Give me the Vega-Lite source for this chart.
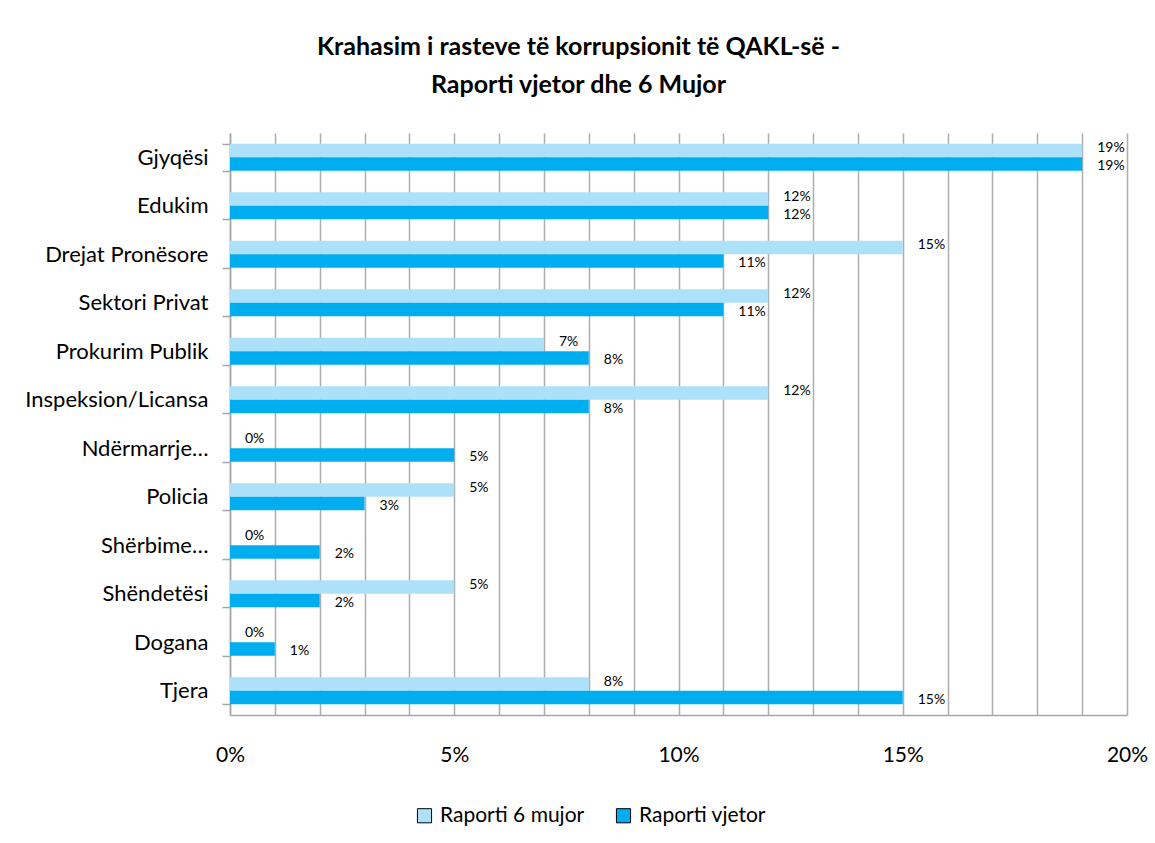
{
  "$schema": "https://vega.github.io/schema/vega-lite/v6.json",
  "autosize": "none",
  "width": 897,
  "height": 582,
  "padding": {"left": 230, "top": 133, "right": 28, "bottom": 128},
  "background": "white",
  "title": {
    "text": ["Krahasim i rasteve të korrupsionit të QAKL-së -", "Raporti vjetor dhe 6 Mujor"],
    "font": "Lato",
    "fontSize": 25,
    "fontWeight": "bold",
    "color": "#000000",
    "anchor": "middle",
    "dx": -100,
    "offset": 24,
    "lineHeight": 38
  },
  "data": {
    "values": [
      {"kategoria": "Gjyqësi", "raporti": "Raporti 6 mujor", "vlera": 0.19},
      {"kategoria": "Gjyqësi", "raporti": "Raporti vjetor", "vlera": 0.19},
      {"kategoria": "Edukim", "raporti": "Raporti 6 mujor", "vlera": 0.12},
      {"kategoria": "Edukim", "raporti": "Raporti vjetor", "vlera": 0.12},
      {"kategoria": "Drejat Pronësore", "raporti": "Raporti 6 mujor", "vlera": 0.15},
      {"kategoria": "Drejat Pronësore", "raporti": "Raporti vjetor", "vlera": 0.11},
      {"kategoria": "Sektori Privat", "raporti": "Raporti 6 mujor", "vlera": 0.12},
      {"kategoria": "Sektori Privat", "raporti": "Raporti vjetor", "vlera": 0.11},
      {"kategoria": "Prokurim Publik", "raporti": "Raporti 6 mujor", "vlera": 0.07},
      {"kategoria": "Prokurim Publik", "raporti": "Raporti vjetor", "vlera": 0.08},
      {"kategoria": "Inspeksion/Licansa", "raporti": "Raporti 6 mujor", "vlera": 0.12},
      {"kategoria": "Inspeksion/Licansa", "raporti": "Raporti vjetor", "vlera": 0.08},
      {"kategoria": "Ndërmarrje…", "raporti": "Raporti 6 mujor", "vlera": 0.0},
      {"kategoria": "Ndërmarrje…", "raporti": "Raporti vjetor", "vlera": 0.05},
      {"kategoria": "Policia", "raporti": "Raporti 6 mujor", "vlera": 0.05},
      {"kategoria": "Policia", "raporti": "Raporti vjetor", "vlera": 0.03},
      {"kategoria": "Shërbime…", "raporti": "Raporti 6 mujor", "vlera": 0.0},
      {"kategoria": "Shërbime…", "raporti": "Raporti vjetor", "vlera": 0.02},
      {"kategoria": "Shëndetësi", "raporti": "Raporti 6 mujor", "vlera": 0.05},
      {"kategoria": "Shëndetësi", "raporti": "Raporti vjetor", "vlera": 0.02},
      {"kategoria": "Dogana", "raporti": "Raporti 6 mujor", "vlera": 0.0},
      {"kategoria": "Dogana", "raporti": "Raporti vjetor", "vlera": 0.01},
      {"kategoria": "Tjera", "raporti": "Raporti 6 mujor", "vlera": 0.08},
      {"kategoria": "Tjera", "raporti": "Raporti vjetor", "vlera": 0.15}
    ]
  },
  "encoding": {
    "y": {
      "field": "kategoria",
      "type": "nominal",
      "sort": ["Gjyqësi", "Edukim", "Drejat Pronësore", "Sektori Privat", "Prokurim Publik", "Inspeksion/Licansa", "Ndërmarrje…", "Policia", "Shërbime…", "Shëndetësi", "Dogana", "Tjera"],
      "scale": {"paddingInner": 0.44, "paddingOuter": 0.22},
      "axis": {
        "title": null,
        "labelFont": "Lato",
        "labelFontSize": 22,
        "labelColor": "#000000",
        "labelPadding": 14,
        "labelLimit": 400,
        "tickBand": "extent",
        "tickSize": 8,
        "tickColor": "#A6A6A6",
        "tickWidth": 1.5,
        "domainColor": "#A6A6A6",
        "domainWidth": 1.5,
        "grid": false
      }
    },
    "yOffset": {
      "field": "raporti",
      "type": "nominal",
      "sort": ["Raporti 6 mujor", "Raporti vjetor"]
    },
    "x": {
      "field": "vlera",
      "type": "quantitative",
      "scale": {"domain": [0, 0.2], "nice": false},
      "axis": {
        "title": null,
        "values": [0, 0.01, 0.02, 0.03, 0.04, 0.05, 0.06, 0.07, 0.08, 0.09, 0.1, 0.11, 0.12, 0.13, 0.14, 0.15, 0.16, 0.17, 0.18, 0.19, 0.2],
        "labelExpr": "round(datum.value * 100) % 5 === 0 ? format(datum.value, '.0%') : ''",
        "labelOverlap": false,
        "labelFlush": false,
        "labelFont": "Lato",
        "labelFontSize": 21,
        "labelColor": "#000000",
        "labelPadding": 29,
        "ticks": false,
        "grid": true,
        "gridColor": "#ADADAD",
        "gridWidth": 1.5,
        "domainColor": "#A6A6A6",
        "domainWidth": 1.5
      }
    }
  },
  "layer": [
    {
      "mark": {"type": "bar"},
      "encoding": {
        "color": {
          "field": "raporti",
          "type": "nominal",
          "scale": {"domain": ["Raporti 6 mujor", "Raporti vjetor"], "range": ["#ADE1FA", "#00AEEF"]},
          "legend": {
            "title": null,
            "orient": "none",
            "direction": "horizontal",
            "legendX": 184,
            "legendY": 672,
            "symbolType": "square",
            "symbolSize": 200,
            "symbolStrokeColor": "#000000",
            "symbolStrokeWidth": 1,
            "labelFont": "Lato",
            "labelFontSize": 21,
            "labelColor": "#000000",
            "labelOffset": 5,
            "columnPadding": 28
          }
        }
      }
    },
    {
      "transform": [{"filter": "datum.raporti === 'Raporti 6 mujor'"}],
      "mark": {"type": "text", "align": "left", "baseline": "middle", "dx": 15, "dy": -2, "font": "Lato", "fontSize": 14, "color": "#000000"},
      "encoding": {
        "text": {"field": "vlera", "type": "quantitative", "format": ".0%"}
      }
    },
    {
      "transform": [{"filter": "datum.raporti === 'Raporti vjetor'"}],
      "mark": {"type": "text", "align": "left", "baseline": "middle", "dx": 15, "dy": 2, "font": "Lato", "fontSize": 14, "color": "#000000"},
      "encoding": {
        "text": {"field": "vlera", "type": "quantitative", "format": ".0%"}
      }
    }
  ],
  "config": {
    "view": {"stroke": null}
  }
}
